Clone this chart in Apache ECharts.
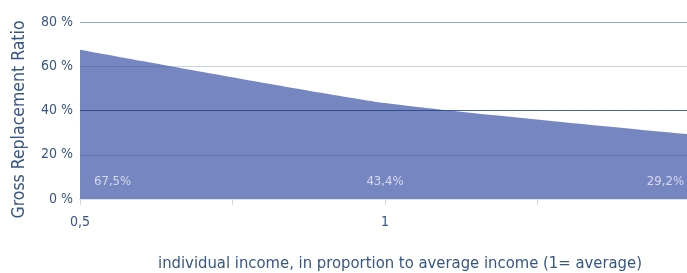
<!DOCTYPE html>
<html>
<head>
<meta charset="utf-8">
<script src="https://cdn.jsdelivr.net/npm/echarts@6/dist/echarts.min.js"></script>
<style>
  html, body { margin: 0; padding: 0; background: #fff; }
  #chart { width: 687px; height: 273px; }
</style>
</head>
<body>
<div id="chart"></div>
<script>
// individual income (1 = average) and gross replacement ratio in %
var incomeLevels = [0.5, 1, 1.5];
var replacementRatio = [67.5, 43.4, 29.2];
var xTickLabels = { '0.5': '0,5', '1': '1' };

var fontName = '"DejaVu Sans Condensed", "Roboto", sans-serif';
var textBlue = '#365683';

// the value labels sit at the bottom of the area
var labelAlign = ['left', 'center', 'right'];
var labelOffset = [[14, -6], [0, -6], [-6, -6]];
var labelPoints = [];
for (var i = 0; i < incomeLevels.length; i++) {
  labelPoints.push({
    value: [incomeLevels[i], 0],
    label: {
      formatter: String(replacementRatio[i]).replace('.', ',') + '%',
      align: labelAlign[i],
      offset: labelOffset[i]
    }
  });
}

var lineData = [];
for (var j = 0; j < incomeLevels.length; j++) {
  lineData.push([incomeLevels[j], replacementRatio[j]]);
}

var chart = echarts.init(document.getElementById('chart'));
chart.setOption({
  animation: false,
  textStyle: { fontFamily: fontName },
  grid: { left: 80, right: -3, top: 22, bottom: 74, outerBoundsMode: 'none' },
  xAxis: {
    type: 'value',
    min: 0.5,
    max: 1.5,
    interval: 0.25,
    name: 'individual income, in proportion to average income (1= average)',
    nameLocation: 'middle',
    nameGap: 56,
    nameTextStyle: { color: textBlue, fontSize: 16.5, fontFamily: fontName, padding: [0, 0, 0, 30] },
    axisLine: { lineStyle: { color: '#dbe2ec', width: 2 } },
    axisTick: { length: 6, lineStyle: { color: '#c9d3e2' } },
    axisLabel: {
      color: textBlue,
      fontSize: 14,
      margin: 16,
      formatter: function (v) { return xTickLabels[String(v)] || ''; }
    },
    splitLine: { show: false }
  },
  yAxis: {
    type: 'value',
    min: 0,
    max: 80,
    interval: 20,
    name: 'Gross Replacement Ratio',
    nameLocation: 'middle',
    nameGap: 52,
    nameTextStyle: { color: textBlue, fontSize: 17.5, fontFamily: fontName, padding: [0, 18, 0, 0] },
    axisLine: { show: false },
    axisTick: { show: false },
    axisLabel: { color: textBlue, fontSize: 14, margin: 7, formatter: '{value} %' },
    splitLine: {
      lineStyle: {
        width: 1.2,
        color: ['rgba(0,0,0,0)', 'rgba(40,60,120,0.25)', 'rgba(40,70,130,0.85)', 'rgba(40,75,130,0.25)', 'rgba(50,95,160,0.55)']
      }
    },
    z: 5
  },
  series: [
    {
      type: 'line',
      data: lineData,
      smooth: 0.2,
      symbol: 'none',
      lineStyle: { width: 0 },
      areaStyle: { color: '#7686c0', opacity: 1 },
      z: 1
    },
    {
      type: 'scatter',
      data: labelPoints,
      symbolSize: 0,
      silent: true,
      label: {
        show: true,
        position: 'top',
        color: 'rgba(255,255,255,0.85)',
        fontSize: 13,
        fontFamily: fontName
      },
      z: 6
    }
  ]
});
</script>
</body>
</html>
